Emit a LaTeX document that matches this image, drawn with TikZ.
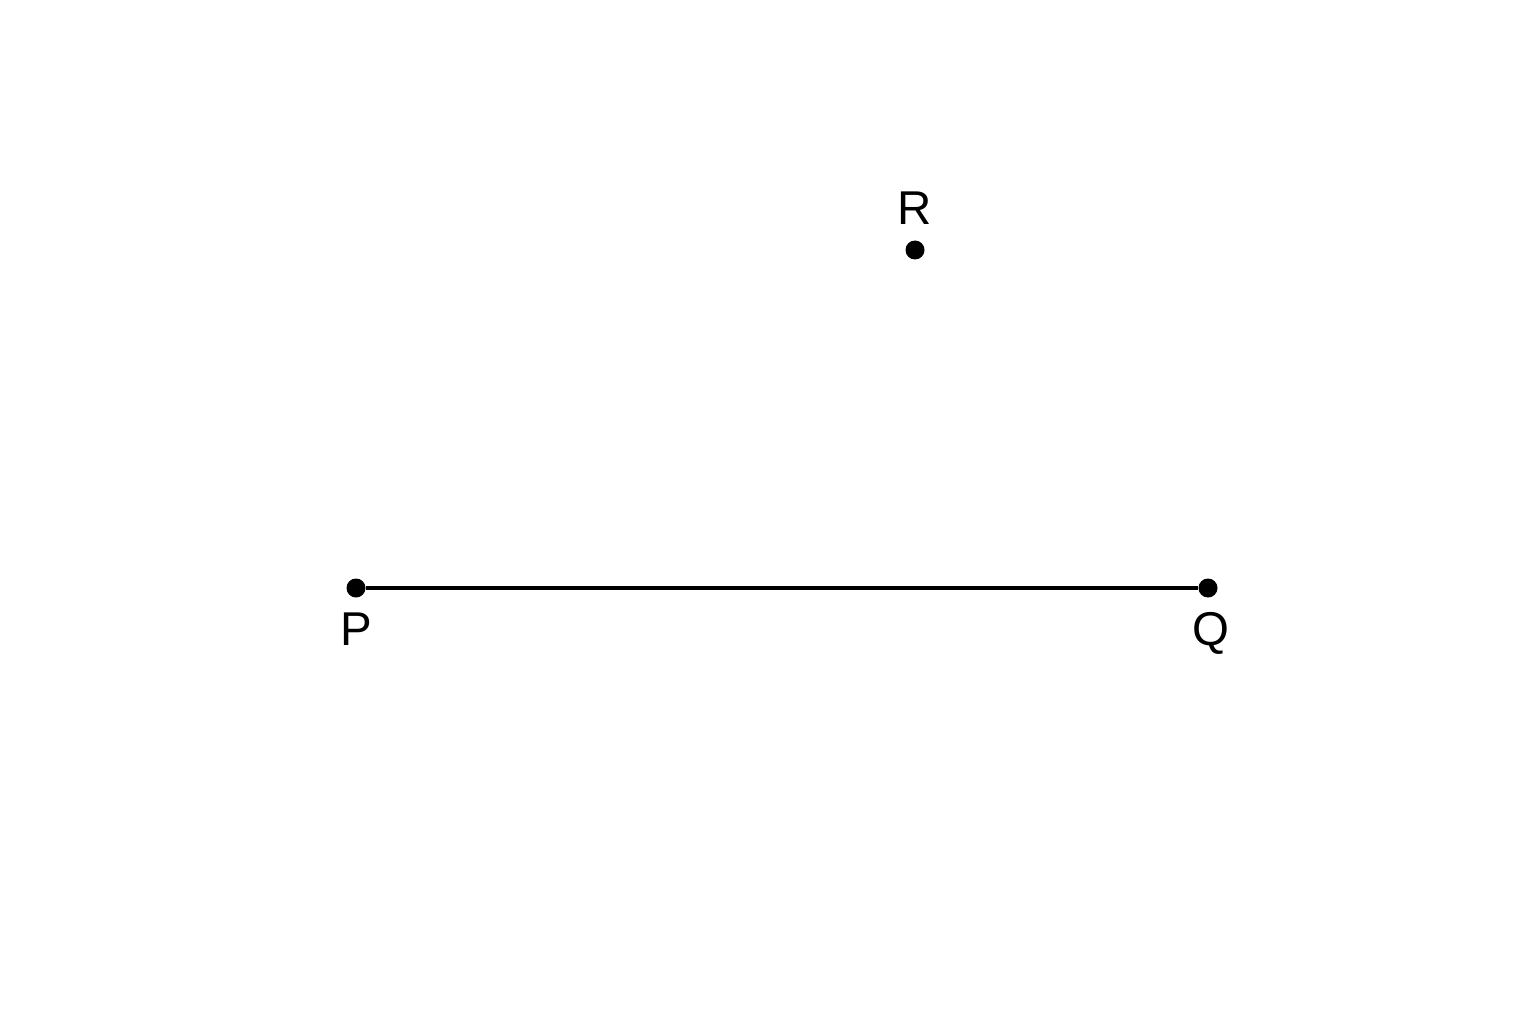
\documentclass[tikz,border=0pt]{standalone}
\usepackage{fontspec}
\setmainfont{Liberation Sans}
\usetikzlibrary{positioning}

\begin{document}
\begin{tikzpicture}[font = \fontsize{13.5}{16}\selectfont,
    pt/.style = {circle, fill = black, inner sep = 0pt, minimum size = 0.19cm}]
            \useasboundingbox (0,0) rectangle (15.36,10.24);

            \node[pt] (P) at (3.56,4.36) {};
            \node[pt] (Q) at (12.08,4.36) {};
            \node[pt] (R) at (9.15,7.74) {};

            \draw[line width = 0.9pt] (P) -- (Q);

            \node[below = 0.02cm of P] (labP) {P};
            \node[below = 0.02cm of Q, xshift = 0.03cm] (labQ) {Q};
            \node[above = 0.03cm of R] (labR) {R};
        \end{tikzpicture}
\end{document}
